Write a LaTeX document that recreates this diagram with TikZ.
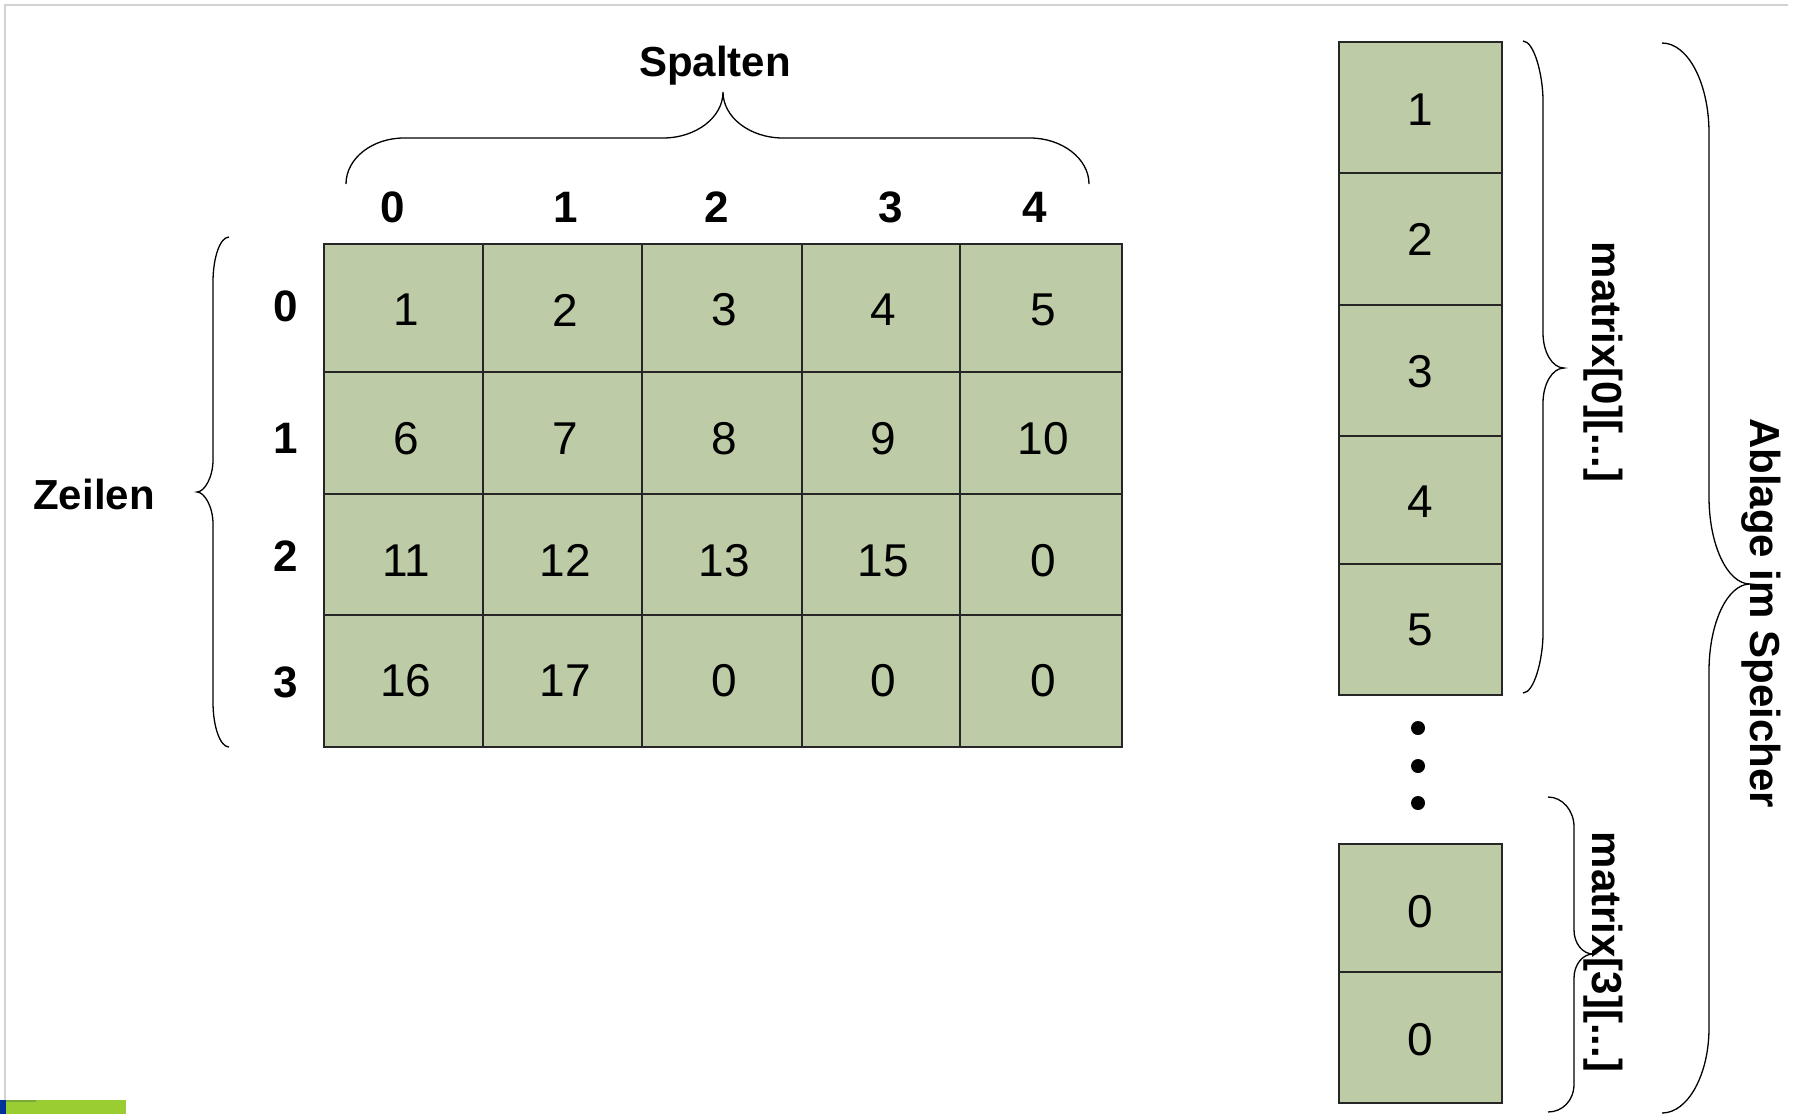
\documentclass[tikz,border=0pt]{standalone}
\usepackage{fontspec}
\setmainfont{Liberation Sans}
\definecolor{cellgreen}{RGB}{189,204,166}
\definecolor{framegray}{RGB}{210,210,210}
\definecolor{bargreen}{RGB}{154,205,50}
\definecolor{bardark}{RGB}{120,170,60}
\definecolor{barblue}{RGB}{0,51,153}
% name, cx, cy, width, height, text, text dx, text dy
\newcommand\mcell[8]{\node[cellbox, minimum width=#4pt, minimum height=#5pt] (#1) at (#2,#3) {};
  \node[celltext] (#1t) at ([xshift=#7pt, yshift=-#8pt]#1.center) {#6};}
\begin{document}
\begin{tikzpicture}[x=1pt,y=-1pt,
  cellbox/.style={draw=black!85, line width=1.4pt, fill=cellgreen, inner sep=0pt},
  celltext/.style={inner sep=0pt, font=\fontsize{46}{50}\selectfont},
  boldlabel/.style={font=\fontsize{42}{46}\selectfont\bfseries, inner sep=0pt, anchor=base},
  headnum/.style={font=\fontsize{44}{48}\selectfont\bfseries, inner sep=0pt, anchor=base},
  bracestyle/.style={draw=black, line width=1.3pt},
  dotstyle/.style={circle, fill=black, inner sep=0pt, minimum size=14pt},
  framestyle/.style={draw=framegray, line width=2.5pt}]
\useasboundingbox (0,0) rectangle (1796,1114);
% frame
\draw[framestyle] (5,1100) -- (5,5) -- (1788,5);
\fill[bargreen] (6,1100) rectangle (126,1114);
\fill[bardark] (6,1100) rectangle (36,1101.5);
\fill[barblue] (0,1100) rectangle (6,1114);
% matrix cells
\mcell{m00}{403.5}{308}{159}{128}{1}{2.5}{2}
\mcell{m01}{562.5}{308}{159}{128}{2}{2.5}{2}
\mcell{m02}{722}{308}{160}{128}{3}{2.5}{2}
\mcell{m03}{881}{308}{158}{128}{4}{2.5}{2}
\mcell{m04}{1041}{308}{162}{128}{5}{2.5}{2}
\mcell{m10}{403.5}{433}{159}{122}{6}{2.5}{6}
\mcell{m11}{562.5}{433}{159}{122}{7}{2.5}{6}
\mcell{m12}{722}{433}{160}{122}{8}{2.5}{6}
\mcell{m13}{881}{433}{158}{122}{9}{2.5}{6}
\mcell{m14}{1041}{433}{162}{122}{10}{2.5}{6}
\mcell{m20}{403.5}{554.5}{159}{121}{11}{2.5}{6}
\mcell{m21}{562.5}{554.5}{159}{121}{12}{2.5}{6}
\mcell{m22}{722}{554.5}{160}{121}{13}{2.5}{6}
\mcell{m23}{881}{554.5}{158}{121}{15}{2.5}{6}
\mcell{m24}{1041}{554.5}{162}{121}{0}{2.5}{6}
\mcell{m30}{403.5}{681}{159}{132}{16}{2.5}{0}
\mcell{m31}{562.5}{681}{159}{132}{17}{2.5}{0}
\mcell{m32}{722}{681}{160}{132}{0}{2.5}{0}
\mcell{m33}{881}{681}{158}{132}{0}{2.5}{0}
\mcell{m34}{1041}{681}{162}{132}{0}{2.5}{0}
% memory column
\mcell{s0}{1420.5}{107.5}{163}{131}{1}{0}{2}
\mcell{s1}{1420.5}{239}{163}{132}{2}{0}{0}
\mcell{s2}{1420.5}{370.5}{163}{131}{3}{0}{1}
\mcell{s3}{1420.5}{500}{163}{128}{4}{0}{2}
\mcell{s4}{1420.5}{629.5}{163}{131}{5}{0}{0}
\mcell{s5}{1420.5}{908}{163}{128}{0}{0}{4}
\mcell{s6}{1420.5}{1037.5}{163}{131}{0}{0}{2}
% dots
\node[dotstyle] (d1) at (1418,728) {};
\node[dotstyle] (d2) at (1418,766) {};
\node[dotstyle] (d3) at (1418,803) {};
% column headers
\node[headnum] (h0) at (393,222) {0};
\node[headnum] (h1) at (566,222) {1};
\node[headnum] (h2) at (717,222) {2};
\node[headnum] (h3) at (891,222) {3};
\node[headnum] (h4) at (1035,222) {4};
% row headers
\node[headnum] (r0) at (286,321) {0};
\node[headnum] (r1) at (286,453) {1};
\node[headnum] (r2) at (286,571) {2};
\node[headnum] (r3) at (286,697) {3};
% labels
\node[boldlabel] (spalten) at (715,76) {Spalten};
\node[boldlabel] (zeilen) at (94,509) {Zeilen};
\node[boldlabel, rotate=-90] (row0) at (1592,362) {matrix[0][...]};
\node[boldlabel, rotate=-90] (row3) at (1592,952) {matrix[3][...]};
\node[boldlabel, rotate=-90] (ablage) at (1750,613) {Ablage im Speicher};
% braces
\draw[bracestyle] (346,184) .. controls (346,158.6) and (372,138) .. (404,138) -- (663,138)
  .. controls (696,138) and (723,117.4) .. (723,92)
  .. controls (723,117.4) and (750,138) .. (783,138) -- (1030,138)
  .. controls (1062,138) and (1089,158.6) .. (1089,184);
\draw[bracestyle] (229,237) .. controls (220.2,237) and (213,257.2) .. (213,282) -- (213,460)
  .. controls (213,477.7) and (204.2,492) .. (197,492)
  .. controls (204.2,492) and (213,506.3) .. (213,524) -- (213,702)
  .. controls (213,726.8) and (220.2,747) .. (229,747);
\draw[bracestyle] (1523,41) .. controls (1534,41) and (1543,74.9) .. (1543,101) -- (1543,333)
  .. controls (1543,352.3) and (1552.4,368) .. (1564,368)
  .. controls (1552.4,368) and (1543,383.7) .. (1543,403) -- (1543,633)
  .. controls (1543,659.9) and (1534,693) .. (1523,693);
\draw[bracestyle] (1662,43) .. controls (1688,43) and (1709,83.3) .. (1709,133) -- (1709,497)
  .. controls (1709,545) and (1727.4,584) .. (1750,584)
  .. controls (1727.4,584) and (1709,623) .. (1709,671) -- (1709,1028)
  .. controls (1709,1074.4) and (1688,1113) .. (1662,1113);
\draw[bracestyle] (1548,797) .. controls (1562.4,797) and (1574,810.4) .. (1574,827) -- (1574,930)
  .. controls (1574,943.2) and (1582.5,954) .. (1593,954)
  .. controls (1582.5,954) and (1574,964.8) .. (1574,978) -- (1574,1084)
  .. controls (1574,1100.6) and (1562.4,1112) .. (1548,1112);
\end{tikzpicture}
\end{document}
